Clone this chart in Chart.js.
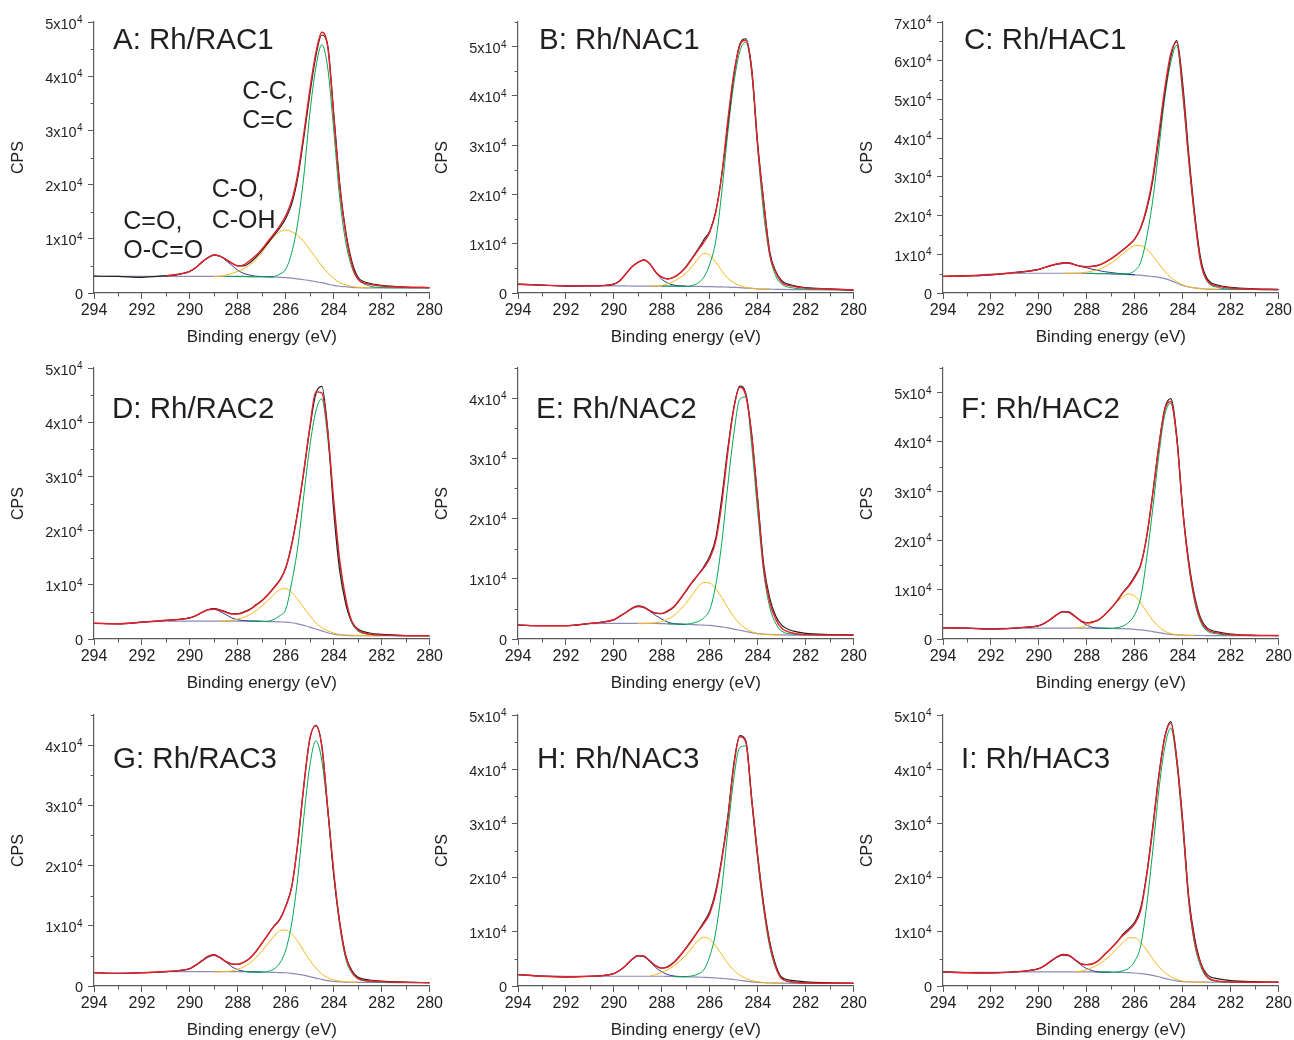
<!DOCTYPE html>
<html>
<head>
<meta charset="utf-8">
<title>C 1s XPS spectra</title>
<script src="https://cdn.jsdelivr.net/npm/chart.js@4.4.1/dist/chart.umd.min.js"></script>
<style>
  html, body { margin: 0; padding: 0; background: #fff; overflow: hidden; }
  #wrap { position: relative; width: 1294px; height: 1040px; }
  canvas { position: absolute; }
</style>
</head>
<body>
<div id="wrap"></div>
<script>
const _ = null;

// binding energy grid (eV), shared by every series
const E_GRID = [294, 293, 292, 291, 290.5, 290, 289.75, 289.5, 289.25, 289,
  288.75, 288.5, 288.25, 288, 287.75, 287.5, 287.25, 287, 286.75, 286.5,
  286.25, 286, 285.75, 285.5, 285.25, 285, 284.75, 284.5, 284.25, 284,
  283.75, 283.5, 283.25, 283, 282.5, 282, 281, 280];

// all intensities in 10^3 CPS
// A: Rh/RAC1
const aRaw = [3.1,3.05,2.9,3.2,3.4,4.0,4.7,5.7,6.5,7.0, 6.8,6.2,5.5,5.0,5.0,5.6,6.6,7.8,9.2,10.6, 12.0,13.8,16.5,21.3,28.6,36.6,43.6,47.6,45.6,33.2, 20.2,11.4,5.9,3.0,1.8,1.4,1.1,1.0];
const aFit = [_,_,_,3.15,3.45,4.0,4.7,5.7,6.5,7.0, 6.8,6.2,5.5,5.0,5.2,6.0,6.9,8.1,9.5,10.9, 12.4,14.3,17.1,22.0,29.4,37.4,44.2,48.1,45.4,32.5, 19.5,10.9,5.4,2.6,1.6,1.3,1.05,1.0];
const aBg  = [3.05,3.05,3.05,3.05,3.05,3.05,3.05,3.05,3.05,3.05, 3.05,3.05,3.05,3.05,3.05,3.0,3.0,3.0,2.95,2.95, 2.9,2.85,2.75,2.6,2.45,2.3,2.1,1.9,1.65,1.4, 1.25,1.15,1.05,1.0,0.95,0.95,0.95,0.95];
const aOCO = [_,_,_,3.1,3.4,4.0,4.7,5.6,6.5,7.0, 6.8,6.0,5.1,4.2,3.6,3.3,3.1,3.05,3.0,2.95, _,_,_,_,_,_,_,_,_,_, _,_,_,_,_,_,_,_];
const aCO  = [_,_,_,_,_,_,_,_,_,3.05, 3.1,3.3,3.6,4.0,4.5,5.2,6.1,7.4,9.0,10.4, 11.3,11.6,11.3,10.6,9.5,8.0,6.5,5.0,3.7,2.7, 1.9,1.5,1.2,1.05,0.95,_,_,_];
const aCC  = [_,_,_,_,_,_,_,_,_,_, _,3.05,3.05,3.05,3.05,3.0,3.0,3.0,3.0,3.05, 3.5,4.4,7.5,13.0,21.5,33.0,41.5,45.8,41.5,30.0, 17.5,9.4,4.8,2.6,1.3,1.0,0.95,0.95];

// B: Rh/NAC1
const bRaw = [1.8,1.6,1.4,1.45,1.5,1.8,2.5,3.9,5.3,6.2, 6.7,5.9,4.2,3.2,2.85,3.2,4.0,5.3,7.0,8.8, 10.8,12.6,16.6,24.0,34.0,44.0,50.5,51.6,45.5,30.3, 18.6,8.4,4.4,2.5,1.5,1.1,0.85,0.6];
const bFit = [1.8,1.6,1.45,1.45,1.5,1.8,2.5,3.9,5.3,6.2, 6.7,5.9,4.2,3.2,2.85,3.2,4.0,5.2,6.9,8.6, 10.3,12.4,16.4,24.0,35.0,44.5,50.2,51.3,45.1,29.6, 18.1,7.9,4.2,2.2,1.35,1.0,0.8,0.6];
const bBg  = [1.7,1.6,1.5,1.45,1.45,1.45,1.45,1.45,1.4,1.4, 1.4,1.4,1.4,1.4,1.4,1.4,1.35,1.35,1.35,1.35, 1.3,1.3,1.25,1.25,1.2,1.15,1.1,1.0,0.95,0.85, 0.8,0.78,0.75,0.73,0.7,0.68,0.64,0.6];
const bOCO = [_,_,_,_,1.5,1.8,2.5,3.9,5.3,6.2, 6.7,5.9,4.1,2.8,2.0,1.6,1.45,1.4,_,_, _,_,_,_,_,_,_,_,_,_, _,_,_,_,_,_,_,_];
const bCO  = [_,_,_,_,_,_,_,_,_,_, _,1.4,1.42,1.5,1.9,2.4,3.1,4.0,5.3,6.9, 8.0,7.7,6.2,4.5,3.0,2.1,1.5,1.15,0.95,0.85, 0.8,0.78,_,_,_,_,_,_];
const bCC  = [_,_,_,_,_,_,_,_,_,_, _,_,_,1.4,1.4,1.4,1.35,1.35,1.5,2.0, 3.2,5.9,10.6,20.5,32.5,42.5,49.0,50.9,44.5,29.2, 16.0,7.6,3.5,1.8,1.0,0.8,0.7,0.6];

// C: Rh/HAC1
const cRaw = [4.3,4.45,4.7,5.3,5.6,6.1,6.6,7.1,7.5,7.8, 7.8,7.3,6.9,6.8,6.9,7.2,7.9,8.8,9.9,11.1, 12.4,14.0,16.8,21.6,29.0,40.0,51.5,61.0,65.2,54.0, 36.0,20.5,8.8,3.9,2.0,1.45,1.1,0.95];
const cFit = [4.3,4.4,4.7,5.3,5.6,6.1,6.6,7.1,7.5,7.7, 7.7,7.3,6.9,6.8,6.9,7.2,7.9,8.8,9.9,11.1, 12.4,14.0,17.0,22.2,29.9,41.1,52.8,61.8,64.8,52.3, 34.7,19.6,7.9,3.4,1.7,1.3,0.95,0.85];
const cBg  = [4.3,4.5,4.85,5.05,5.1,5.1,5.1,5.1,5.1,5.1, 5.1,5.1,5.1,5.05,5.05,5.0,5.0,4.95,4.9,4.85, 4.75,4.7,4.6,4.4,4.25,4.05,3.7,3.2,2.6,1.95, 1.55,1.3,1.15,1.0,0.95,0.95,0.9,0.86];
const cOCO = [_,_,_,5.3,5.6,6.1,6.6,7.0,7.4,7.6, 7.7,7.3,6.9,6.5,6.1,5.8,5.5,5.3,5.1,4.95, 4.8,4.7,_,_,_,_,_,_,_,_, _,_,_,_,_,_,_,_];
const cCO  = [_,_,_,_,_,_,_,_,_,5.1, 5.1,5.1,5.2,5.4,5.7,6.1,6.8,7.7,8.8,10.1, 11.3,12.3,12.2,11.3,9.6,7.6,5.6,4.0,2.9,2.1, 1.6,1.3,1.15,1.0,0.95,_,_,_];
const cCC  = [_,_,_,_,_,_,_,_,_,_, _,_,_,5.05,5.05,5.0,5.0,4.95,4.9,4.9, 5.0,5.8,8.0,14.5,24.0,37.0,50.5,59.5,64.0,51.0, 34.0,19.0,7.8,3.2,1.4,1.0,0.9,0.86];

// D: Rh/RAC2
const dRaw = [2.9,2.8,3.1,3.45,3.6,3.9,4.3,4.9,5.4,5.6, 5.4,5.0,4.7,4.7,5.0,5.5,6.3,7.1,8.2,9.5, 10.9,13.2,17.6,23.6,30.8,38.8,45.2,46.6,38.5,23.5, 12.5,6.5,3.2,1.9,1.1,0.85,0.65,0.6];
const dFit = [2.9,2.8,3.1,3.45,3.6,3.9,4.3,4.9,5.4,5.5, 5.3,4.9,4.6,4.6,4.9,5.4,6.2,7.0,8.1,9.4, 10.8,13.1,17.4,23.5,31.0,39.0,45.6,45.4,38.3,25.5, 14.5,7.5,3.3,1.7,0.9,0.75,0.6,0.6];
const dBg  = [2.9,2.85,3.1,3.3,3.3,3.3,3.3,3.3,3.3,3.3, 3.3,3.3,3.3,3.3,3.3,3.3,3.28,3.25,3.22,3.2, 3.15,3.1,3.0,2.8,2.5,2.2,1.85,1.5,1.15,0.9, 0.75,0.65,0.62,0.6,0.6,0.6,0.6,0.6];
const dOCO = [_,_,_,3.4,3.6,3.9,4.3,4.9,5.4,5.5, 5.1,4.5,3.9,3.55,3.4,3.3,3.28,3.25,_,_, _,_,_,_,_,_,_,_,_,_, _,_,_,_,_,_,_,_];
const dCO  = [_,_,_,_,_,_,_,_,_,_, 3.3,3.35,3.45,3.7,4.0,4.5,5.2,6.1,7.1,8.2, 9.1,9.3,8.6,7.3,5.8,4.3,3.0,2.1,1.5,1.1, 0.85,0.75,0.7,0.65,0.6,0.6,_,_];
const dCC  = [_,_,_,_,_,_,_,_,_,_, _,_,_,_,_,3.3,3.3,3.25,3.3,3.6, 4.3,5.5,10.5,17.0,26.5,35.5,42.0,44.3,37.0,25.0, 14.0,6.8,3.0,1.5,0.85,0.7,0.6,0.6];

// E: Rh/NAC2
const eRaw = [2.3,2.2,2.2,2.6,2.8,3.2,3.8,4.4,5.1,5.5, 5.3,4.7,4.3,4.2,4.6,5.3,6.5,7.9,9.3,10.6, 12.0,13.8,16.8,23.5,31.6,38.4,42.0,40.8,33.9,23.2, 12.3,6.8,3.8,2.3,1.3,0.95,0.75,0.66];
const eFit = [2.3,2.2,2.2,2.6,2.8,3.2,3.8,4.4,5.1,5.4, 5.25,4.7,4.3,4.25,4.7,5.4,6.6,8.0,9.4,10.6, 11.8,13.4,16.3,22.5,31.0,38.2,41.8,40.4,33.7,22.7, 11.6,6.1,3.3,1.8,0.95,0.72,0.66,0.66];
const eBg  = [2.3,2.2,2.2,2.55,2.6,2.6,2.6,2.6,2.6,2.6, 2.6,2.6,2.58,2.55,2.52,2.5,2.48,2.45,2.4,2.35, 2.3,2.25,2.15,2.0,1.85,1.65,1.45,1.25,1.05,0.9, 0.8,0.75,0.72,0.7,0.66,0.66,0.66,0.66];
const eOCO = [_,_,_,_,2.75,3.2,3.75,4.4,5.0,5.4, 5.2,4.6,3.9,3.3,2.8,2.55,2.45,2.4,_,_, _,_,_,_,_,_,_,_,_,_, _,_,_,_,_,_,_,_];
const eCO  = [_,_,_,_,_,_,_,_,_,2.55, 2.55,2.6,2.7,2.9,3.3,3.9,4.8,5.9,7.2,8.6, 9.4,9.3,8.3,6.9,5.2,3.7,2.5,1.7,1.2,0.9, 0.75,0.7,0.68,0.66,_,_,_,_];
const eCC  = [_,_,_,_,_,_,_,_,_,_, _,_,_,_,2.52,2.5,2.48,2.45,2.6,2.9, 3.5,4.9,9.0,16.0,25.5,34.0,39.8,40.2,32.0,21.0, 11.0,5.3,2.6,1.3,0.8,0.7,0.66,0.66];

// F: Rh/HAC2
const fRaw = [2.25,2.2,2.0,2.2,2.4,2.7,3.25,4.05,4.95,5.55, 5.4,4.6,3.7,3.3,3.5,3.9,4.9,6.2,7.7,9.4, 10.9,12.8,15.2,20.8,29.6,39.2,46.8,48.8,41.2,26.4, 15.8,8.6,4.2,2.3,1.4,1.0,0.75,0.7];
const fFit = [2.25,2.2,2.0,2.2,2.4,2.7,3.25,4.05,4.95,5.55, 5.4,4.6,3.7,3.25,3.45,3.9,4.95,6.2,7.65,9.35, 10.7,12.5,15.0,21.0,29.5,39.0,46.5,48.2,40.8,26.0, 15.2,8.0,3.8,2.0,1.2,0.9,0.7,0.7];
const fBg  = [2.25,2.2,2.1,2.2,2.2,2.2,2.2,2.2,2.2,2.2, 2.2,2.2,2.2,2.2,2.2,2.2,2.18,2.15,2.12,2.1, 2.05,1.95,1.85,1.7,1.5,1.3,1.1,0.95,0.85,0.78, 0.75,0.72,0.71,0.7,0.7,0.7,0.7,0.7];
const fOCO = [_,_,_,_,2.35,2.7,3.2,4.0,4.9,5.5, 5.5,4.7,3.6,2.8,2.35,2.2,2.17,2.15,_,_, _,_,_,_,_,_,_,_,_,_, _,_,_,_,_,_,_,_];
const fCO  = [_,_,_,_,_,_,_,_,_,_, _,2.2,2.4,2.8,3.3,4.0,5.0,6.2,7.5,8.6, 9.15,8.7,7.3,5.5,3.8,2.5,1.6,1.1,0.85,0.75, 0.72,0.7,_,_,_,_,_,_];
const fCC  = [_,_,_,_,_,_,_,_,_,_, _,_,_,_,_,2.2,2.18,2.15,2.3,2.6, 3.4,5.0,8.5,16.5,26.5,37.2,45.5,47.8,40.5,26.0, 15.0,7.5,3.4,1.7,1.0,0.8,0.72,0.7];

// G: Rh/RAC3
const gRaw = [2.2,2.1,2.2,2.4,2.55,2.9,3.5,4.2,4.9,5.2, 4.75,4.05,3.65,3.6,3.95,4.6,5.7,7.1,8.5,9.9, 11.1,13.3,16.6,23.7,33.2,41.0,43.3,40.0,29.5,18.5, 10.6,5.1,2.6,1.5,1.0,0.8,0.65,0.55];
const gFit = [2.2,2.1,2.2,2.4,2.55,2.9,3.5,4.2,4.9,5.15, 4.7,4.05,3.65,3.6,3.95,4.6,5.7,7.1,8.5,9.9, 11.0,13.2,16.5,23.7,33.2,41.0,43.2,39.8,29.4,19.0, 10.4,4.9,2.4,1.3,0.83,0.72,0.61,0.55];
const gBg  = [2.2,2.1,2.2,2.35,2.4,2.4,2.4,2.4,2.4,2.4, 2.4,2.4,2.4,2.4,2.4,2.35,2.33,2.3,2.28,2.25, 2.22,2.2,2.1,1.95,1.8,1.55,1.3,1.1,0.9,0.75, 0.7,0.65,0.62,0.6,0.58,0.58,0.56,0.55];
const gOCO = [_,_,_,_,2.55,2.85,3.4,4.1,4.75,5.05, 4.75,4.0,3.2,2.7,2.45,2.35,2.32,2.3,_,_, _,_,_,_,_,_,_,_,_,_, _,_,_,_,_,_,_,_];
const gCO  = [_,_,_,_,_,_,_,_,_,2.35, 2.35,2.4,2.5,2.8,3.2,3.8,4.7,5.8,7.0,8.2, 9.2,9.3,8.6,7.4,5.8,4.3,3.0,2.0,1.4,1.0, 0.8,0.7,0.65,0.62,_,_,_,_];
const gCC  = [_,_,_,_,_,_,_,_,_,_, _,_,_,_,2.4,2.35,2.33,2.3,2.4,2.8, 3.8,6.0,10.5,18.0,28.0,36.5,40.7,37.5,29.0,18.3, 10.0,4.5,2.2,1.2,0.75,0.65,0.58,0.55];

// H: Rh/NAC3
const hRaw = [2.1,1.8,1.65,1.8,1.9,2.3,2.9,3.8,4.9,5.6, 5.5,4.6,3.7,3.3,3.6,4.4,5.6,7.0,8.5,10.1, 11.8,13.8,17.6,23.6,31.2,41.0,46.2,45.3,34.6,24.0, 15.0,8.2,3.9,1.6,1.0,0.75,0.6,0.5];
const hFit = [2.1,1.8,1.65,1.8,1.9,2.3,2.9,3.8,4.9,5.6, 5.5,4.6,3.7,3.3,3.5,4.3,5.5,6.9,8.4,10.0, 11.5,13.4,17.1,23.2,30.8,40.5,46.0,45.0,34.3,23.8, 14.6,7.8,3.5,1.35,0.75,0.55,0.5,0.5];
const hBg  = [2.1,1.9,1.8,1.8,1.8,1.8,1.8,1.8,1.8,1.8, 1.8,1.8,1.8,1.8,1.78,1.75,1.72,1.7,1.68,1.65, 1.6,1.55,1.48,1.4,1.3,1.2,1.05,0.9,0.75,0.65, 0.6,0.55,0.53,0.52,0.5,0.5,0.5,0.5];
const hOCO = [_,_,_,_,1.9,2.3,2.9,3.8,4.8,5.55, 5.4,4.5,3.4,2.6,2.1,1.85,1.75,1.7,_,_, _,_,_,_,_,_,_,_,_,_, _,_,_,_,_,_,_,_];
const hCO  = [_,_,_,_,_,_,_,_,_,_, _,1.85,2.1,2.5,3.0,3.7,4.6,5.7,7.0,8.3, 9.0,8.6,7.4,5.8,4.2,2.9,2.0,1.4,1.0,0.8, 0.65,0.58,0.55,0.52,_,_,_,_];
const hCC  = [_,_,_,_,_,_,_,_,_,_, _,_,_,_,_,1.75,1.72,1.75,1.85,2.2, 3.0,5.5,10.0,18.0,28.5,38.3,44.0,44.3,33.8,23.0, 14.0,7.2,3.3,1.4,0.7,0.55,0.5,0.5];

// I: Rh/HAC3
const iRaw = [2.6,2.45,2.4,2.6,2.8,3.2,3.8,4.6,5.35,5.8, 5.65,4.85,4.1,3.95,4.1,4.75,5.85,6.9,8.1,9.5, 10.6,11.8,14.5,20.8,29.5,38.8,46.0,48.8,42.0,30.5, 16.5,8.8,4.3,2.2,1.3,1.0,0.8,0.7];
const iFit = [2.6,2.45,2.4,2.6,2.8,3.2,3.8,4.6,5.35,5.8, 5.65,4.85,4.1,3.95,4.1,4.75,5.85,6.9,8.1,9.3, 10.3,11.5,14.0,20.5,29.0,38.5,45.8,48.5,41.7,30.0, 16.0,8.1,4.1,1.8,0.9,0.75,0.68,0.68];
const iBg  = [2.6,2.5,2.5,2.6,2.6,2.6,2.6,2.6,2.6,2.6, 2.6,2.6,2.6,2.6,2.58,2.57,2.56,2.55,2.52,2.5, 2.45,2.4,2.3,2.15,1.95,1.7,1.4,1.15,0.95,0.82, 0.77,0.74,0.72,0.7,0.69,0.68,0.68,0.68];
const iOCO = [_,_,_,_,2.8,3.2,3.75,4.5,5.25,5.65, 5.55,4.8,3.9,3.2,2.8,2.6,2.57,2.55,_,_, _,_,_,_,_,_,_,_,_,_, _,_,_,_,_,_,_,_];
const iCO  = [_,_,_,_,_,_,_,_,_,_, _,2.6,2.75,3.0,3.45,4.0,4.8,5.7,6.9,8.0, 8.9,8.9,8.0,6.6,5.0,3.6,2.5,1.7,1.2,0.9, 0.78,0.72,0.7,0.68,_,_,_,_];
const iCC  = [_,_,_,_,_,_,_,_,_,_, _,_,_,_,_,2.57,2.56,2.55,2.6,2.8, 3.3,4.6,7.5,15.0,25.0,36.0,44.0,47.6,41.0,29.0, 15.5,7.6,3.6,1.6,0.85,0.72,0.68,0.68];

const PANEL_TITLES = ['A: Rh/RAC1', 'B: Rh/NAC1', 'C: Rh/HAC1',
                      'D: Rh/RAC2', 'E: Rh/NAC2', 'F: Rh/HAC2',
                      'G: Rh/RAC3', 'H: Rh/NAC3', 'I: Rh/HAC3'];
const Y_MAX = [50, 55, 70, 50, 45, 55, 45, 50, 50];   // 10^3 CPS
const PEAK_LABELS = ['C-C,', 'C=C', 'C-O,', 'C-OH', 'C=O,', 'O-C=O'];

const FONT = "'Liberation Sans', Arial, Helvetica, sans-serif";
const TEXT = '#231f20';
const AXIS = '#5a5a5a';
const COLORS = { fit: '#e8202a', raw: '#231f20', cc: '#00a651', co: '#f7b719', oco: '#2b3990', bg: '#8a8cb8' };

const panels = [
  { raw: aRaw, fit: aFit, bg: aBg, oco: aOCO, co: aCO, cc: aCC },
  { raw: bRaw, fit: bFit, bg: bBg, oco: bOCO, co: bCO, cc: bCC },
  { raw: cRaw, fit: cFit, bg: cBg, oco: cOCO, co: cCO, cc: cCC },
  { raw: dRaw, fit: dFit, bg: dBg, oco: dOCO, co: dCO, cc: dCC },
  { raw: eRaw, fit: eFit, bg: eBg, oco: eOCO, co: eCO, cc: eCC },
  { raw: fRaw, fit: fFit, bg: fBg, oco: fOCO, co: fCO, cc: fCC },
  { raw: gRaw, fit: gFit, bg: gBg, oco: gOCO, co: gCO, cc: gCC },
  { raw: hRaw, fit: hFit, bg: hBg, oco: hOCO, co: hCO, cc: hCC },
  { raw: iRaw, fit: iFit, bg: iBg, oco: iOCO, co: iCO, cc: iCC },
];

// canvas placement: plot area starts 94px right of / 14px below the canvas corner
const COL_LEFT = [0, 424, 849];
const ROW_TOP = [8, 354, 701];
const TITLE_DY = [27.3, 49.7, 53.3];
const TITLE_DX = [19, 21, 21, 18, 18, 18, 19, 19, 18];

// outward minor ticks (odd eV, every 5x10^3 CPS)
const minorTicks = {
  id: 'minorTicks',
  afterDraw(chart) {
    const { ctx, scales: { x, y } } = chart;
    ctx.save();
    ctx.strokeStyle = AXIS;
    ctx.lineWidth = 1;
    ctx.beginPath();
    for (let v = 281; v < 294; v += 2) {
      const px = Math.round(x.getPixelForValue(v)) + 0.5;
      ctx.moveTo(px, y.bottom);
      ctx.lineTo(px, y.bottom + 3.5);
    }
    for (let v = 5; v <= y.max; v += 10) {
      const py = Math.round(y.getPixelForValue(v)) + 0.5;
      ctx.moveTo(x.left, py);
      ctx.lineTo(x.left - 3.5, py);
    }
    ctx.stroke();
    ctx.restore();
  }
};

// y tick labels as "Nx10" with a raised exponent
const yLabels = {
  id: 'yLabels',
  afterDraw(chart) {
    const { ctx, scales: { y } } = chart;
    const right = y.right - 11.5;
    ctx.save();
    ctx.fillStyle = TEXT;
    ctx.textAlign = 'right';
    ctx.textBaseline = 'alphabetic';
    for (const t of y.ticks) {
      const py = y.getPixelForValue(t.value);
      if (t.value === 0) {
        ctx.font = '14.5px ' + FONT;
        ctx.fillText('0', right + 0.5, py + 6);
        continue;
      }
      ctx.font = '10px ' + FONT;
      const supW = ctx.measureText('4').width;
      ctx.fillText('4', right, py + 1);
      ctx.font = '14.5px ' + FONT;
      ctx.fillText((t.value / 10) + 'x10', right - supW - 0.3, py + 6.5);
    }
    ctx.restore();
  }
};

const panelText = {
  id: 'panelText',
  afterDraw(chart, args, opts) {
    const { ctx, chartArea } = chart;
    ctx.save();
    ctx.fillStyle = TEXT;
    ctx.textAlign = 'left';
    ctx.textBaseline = 'alphabetic';
    for (const t of opts.items) {
      ctx.font = t.size + 'px ' + FONT;
      ctx.fillText(t.text, chartArea.left + t.dx, chartArea.top + t.dy);
    }
    ctx.restore();
  }
};

function series(arr, color, width) {
  return {
    data: E_GRID.map((x, i) => ({ x, y: arr[i] })),
    borderColor: color,
    borderWidth: width,
    pointRadius: 0,
    fill: false,
    spanGaps: false,
    cubicInterpolationMode: 'monotone'
  };
}

function makePanel(idx) {
  const p = panels[idx];
  const row = Math.floor(idx / 3), col = idx % 3;
  const cv = document.createElement('canvas');
  cv.width = 445; cv.height = 341;
  cv.style.left = COL_LEFT[col] + 'px';
  cv.style.top = ROW_TOP[row] + 'px';
  document.getElementById('wrap').appendChild(cv);

  const items = [{ text: PANEL_TITLES[idx], size: 29.5, dx: TITLE_DX[idx], dy: TITLE_DY[row] }];
  if (idx === 0) {
    items.push(
      { text: PEAK_LABELS[0], size: 25, dx: 148.3, dy: 77 },
      { text: PEAK_LABELS[1], size: 25, dx: 148.3, dy: 106.3 },
      { text: PEAK_LABELS[2], size: 25, dx: 117.7, dy: 174.7 },
      { text: PEAK_LABELS[3], size: 25, dx: 117.7, dy: 205.7 },
      { text: PEAK_LABELS[4], size: 25, dx: 29.3, dy: 207.3 },
      { text: PEAK_LABELS[5], size: 25, dx: 29.3, dy: 236.3 }
    );
  }

  new Chart(cv.getContext('2d'), {
    type: 'line',
    data: {
      datasets: [
        series(p.fit, COLORS.fit, 1.4),
        series(p.raw, COLORS.raw, 1.2),
        series(p.cc, COLORS.cc, 1),
        series(p.co, COLORS.co, 1),
        series(p.oco, COLORS.oco, 1),
        series(p.bg, COLORS.bg, 1.2),
      ]
    },
    options: {
      responsive: false,
      animation: false,
      events: [],
      layout: { padding: { top: 14, right: 14, bottom: 0, left: 0 } },
      plugins: {
        legend: { display: false },
        tooltip: { enabled: false },
        panelText: { items }
      },
      scales: {
        x: {
          type: 'linear',
          reverse: true,
          min: 280, max: 294,
          afterFit: s => { s.height = 56; },
          border: { display: true, color: AXIS, width: 1.2 },
          grid: { display: true, drawOnChartArea: false, drawTicks: true, tickLength: 6, color: AXIS, lineWidth: 1 },
          ticks: { stepSize: 2, padding: 2, color: TEXT, font: { family: FONT, size: 16 }, maxRotation: 0 },
          title: { display: true, text: 'Binding energy (eV)', color: TEXT, font: { family: FONT, size: 17 }, padding: { top: 0, bottom: 1.3 } }
        },
        y: {
          type: 'linear',
          min: 0, max: Y_MAX[idx],
          afterFit: s => { s.width = 94; },
          border: { display: true, color: AXIS, width: 1.2 },
          grid: { display: true, drawOnChartArea: false, drawTicks: true, tickLength: 6, color: AXIS, lineWidth: 1 },
          ticks: { display: false, stepSize: 10, includeBounds: false },
          title: { display: true, text: 'CPS', color: TEXT, font: { family: FONT, size: 16 }, padding: { top: 9.4, bottom: 0 } }
        }
      }
    },
    plugins: [minorTicks, yLabels, panelText]
  });
}

for (let i = 0; i < 9; i++) makePanel(i);
</script>
</body>
</html>
